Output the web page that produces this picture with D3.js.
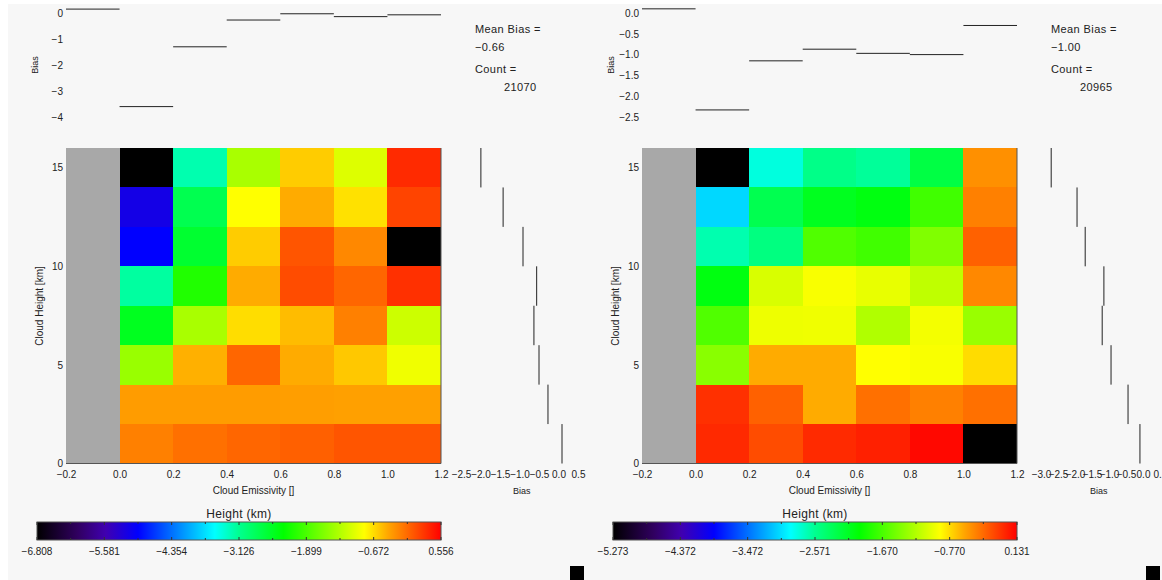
<!DOCTYPE html>
<html>
<head>
<meta charset="utf-8">
<script src="https://cdn.jsdelivr.net/npm/d3@7/dist/d3.min.js"></script>
<style>
html, body { margin: 0; padding: 0; background: #ffffff; }
svg { display: block; }
text { font-family: "Liberation Sans", sans-serif; fill: #222; }
</style>
</head>
<body>
<script>
// cell colours come from these values, columns are emissivity bins, rows go top (14-16 km) to bottom
var emissivity_bins = [0.0, 0.2, 0.4, 0.6, 0.8, 1.0];
var height_bins = [14, 12, 10, 8, 6, 4, 2, 0];
var emissivity_ticks = [-0.2, 0.0, 0.2, 0.4, 0.6, 0.8, 1.0, 1.2];
var height_ticks = [0, 5, 10, 15];

var left_cells = [
  [null, -3.251, -1.337, -0.593, -1.042, 0.313],
  [-5.15, -2.765, -0.843, -0.431, -0.696, 0.159],
  [-4.967, -2.588, -0.593, 0.063, -0.232, null],
  [-3.19, -2.132, -0.431, 0.114, -0.033, 0.276],
  [-2.49, -1.337, -0.674, -0.512, -0.188, -1.138],
  [-1.432, -0.453, -0.033, -0.431, -0.571, -0.93],
  [-0.35, -0.35, -0.35, -0.36, -0.37, -0.37],
  [-0.188, -0.092, -0.033, -0.003, 0.063, 0.063]
];
var right_cells = [
  [null, -2.798, -2.539, -2.598, -2.258, -0.48],
  [-3.052, -2.306, -2.106, -2.041, -1.706, -0.415],
  [-2.663, -2.506, -1.636, -1.706, -1.436, -0.28],
  [-2.041, -1.063, -0.923, -0.993, -1.166, -0.447],
  [-1.636, -0.966, -0.961, -1.231, -0.944, -1.328],
  [-1.398, -0.593, -0.593, -0.896, -0.923, -0.771],
  [-0.074, -0.28, -0.593, -0.345, -0.415, -0.345],
  [-0.042, -0.193, -0.047, -0.004, 0.099, null]
];
var left_bias_top = [0.15, -3.6, -1.3, -0.27, -0.03, -0.14, -0.07];
var right_bias_top = [0.1, -2.33, -1.15, -0.87, -0.97, -1.0, -0.3];
var left_bias_side = [-1.99, -1.42, -0.91, -0.56, -0.63, -0.5, -0.27, 0.09];
var right_bias_side = [-2.7, -1.94, -1.7, -1.15, -1.2, -0.94, -0.44, -0.09];
var left_top_ticks = [0, -1, -2, -3, -4];
var right_top_ticks = [0, -0.5, -1, -1.5, -2, -2.5];
var left_side_ticks = [-2.5, -2, -1.5, -1, -0.5, 0, 0.5];
var right_side_ticks = [-3, -2.5, -2, -1.5, -1, -0.5, 0, 0.5];
var left_bar_labels = ["-6.808", "-5.581", "-4.354", "-3.126", "-1.899", "-0.672", "0.556"];
var right_bar_labels = ["-5.273", "-4.372", "-3.472", "-2.571", "-1.670", "-0.770", "0.131"];

var color_stops = [[0, "#000000"], [0.1, "#30005f"], [0.17, "#4000b0"], [0.25, "#0000ff"], [0.44, "#00ffff"], [0.5, "#00ff90"],
                   [0.61, "#00ff00"], [0.81, "#ffff00"], [0.87, "#ffa500"], [1, "#ff0000"]];
var rainbow = d3.scaleLinear().domain(color_stops.map(function(d) { return d[0]; }))
  .range(color_stops.map(function(d) { return d[1]; })).clamp(true);

var svg = d3.select("body").append("svg").attr("width", 1162).attr("height", 580);
svg.append("rect").attr("x", 8).attr("y", 4).attr("width", 1154).attr("height", 576).attr("fill", "#f7f7f7");

function fmt(d) { return String(d).replace("-", "\u2212"); }
function fmt1(d) { return d3.format(".1f")(d).replace("-", "\u2212"); }

function DrawPanel(o) {
  var g = svg.append("g");
  var x = d3.scaleLinear().domain([-0.2, 1.2]).range([o.x0, o.x0 + 375]);
  var y = d3.scaleLinear().domain([0, 16]).range([463.5, 148]);
  var frac = d3.scaleLinear().domain([o.min, o.max]);

  g.append("rect").attr("x", x(-0.2)).attr("y", y(16)).attr("width", x(0) - x(-0.2) + 1).attr("height", y(0) - y(16))
    .attr("shape-rendering", "crispEdges").attr("fill", "#a8a8a8");
  o.cells.forEach(function(row, r) {
    row.forEach(function(v, c) {
      g.append("rect")
        .attr("x", x(emissivity_bins[c])).attr("y", y(height_bins[r] + 2))
        .attr("width", x(0.2) - x(0)).attr("height", y(0) - y(2))
        .attr("shape-rendering", "crispEdges")
        .attr("fill", v === null ? "#000000" : rainbow(frac(v)));
    });
  });
  g.append("line").attr("x1", x(-0.2)).attr("x2", x(1.2)).attr("y1", y(0)).attr("y2", y(0)).attr("stroke", "#555");
  g.append("line").attr("x1", x(1.2)).attr("x2", x(1.2)).attr("y1", y(0)).attr("y2", y(16)).attr("stroke", "#555");

  var xaxis = g.append("g").attr("transform", "translate(0," + y(0) + ")")
    .call(d3.axisBottom(x).tickValues(emissivity_ticks).tickSize(0).tickPadding(7).tickFormat(fmt1));
  var yaxis = g.append("g").attr("transform", "translate(" + x(-0.2) + ",0)")
    .call(d3.axisLeft(y).tickValues(height_ticks).tickSize(0).tickPadding(3).tickFormat(fmt));
  xaxis.select(".domain").remove();
  yaxis.select(".domain").remove();
  g.selectAll(".tick text").style("font-size", "10px").style("font-family", '"Liberation Sans", sans-serif').attr("fill", "#222");

  g.append("text").attr("x", x(0.5)).attr("y", 494).attr("text-anchor", "middle").style("font-size", "10px").text("Cloud Emissivity []");
  g.append("text").attr("transform", "translate(" + (o.x0 - 23) + ",306) rotate(-90)").attr("text-anchor", "middle").style("font-size", "10px").text("Cloud Height [km]");

  // bias by emissivity, above the map
  var top = d3.scaleLinear().domain([0, -1]).range([13, 13 + o.top_per_unit]);
  var topaxis = g.append("g").attr("transform", "translate(" + x(-0.2) + ",0)")
    .call(d3.axisLeft(top).tickValues(o.top_ticks).tickSize(0).tickPadding(3).tickFormat(o.top_fmt));
  topaxis.select(".domain").remove();
  topaxis.selectAll("text").style("font-size", "10px").attr("fill", "#222");
  g.append("text").attr("transform", "translate(" + (o.x0 - 28) + ",65) rotate(-90)").attr("text-anchor", "middle").style("font-size", "9px").text("Bias");
  o.bias_top.forEach(function(v, i) {
    g.append("line")
      .attr("x1", x(-0.2 + 0.2 * i)).attr("x2", x(0.2 * i))
      .attr("y1", top(v)).attr("y2", top(v))
      .attr("stroke", "#222").attr("stroke-width", 1);
  });

  // bias by height, right of the map
  var side = d3.scaleLinear().domain([0, 1]).range([o.side_zero, o.side_zero + o.side_per_unit]);
  var sideaxis = g.append("g").attr("transform", "translate(0," + y(0) + ")")
    .call(d3.axisBottom(side).tickValues(o.side_ticks).tickSize(0).tickPadding(7).tickFormat(fmt1));
  sideaxis.select(".domain").remove();
  sideaxis.selectAll("text").style("font-size", "10px").attr("fill", "#222");
  g.append("text").attr("x", o.side_zero + o.side_per_unit * o.side_label).attr("y", 494).attr("text-anchor", "middle").style("font-size", "9px").text("Bias");
  o.bias_side.forEach(function(v, i) {
    g.append("line")
      .attr("x1", side(v)).attr("x2", side(v))
      .attr("y1", y(height_bins[i])).attr("y2", y(height_bins[i] + 2))
      .attr("stroke", "#222").attr("stroke-width", 1);
  });

  // summary text
  var tx = o.x0 + 409;
  g.append("text").attr("x", tx).attr("y", 33).style("font-size", "11px").style("letter-spacing", "0.4px").text("Mean Bias =");
  g.append("text").attr("x", tx).attr("y", 51).style("font-size", "11px").style("letter-spacing", "0.4px").text(o.mean);
  g.append("text").attr("x", tx).attr("y", 73).style("font-size", "11px").style("letter-spacing", "0.4px").text("Count =");
  g.append("text").attr("x", tx + 29).attr("y", 91).style("font-size", "11px").style("letter-spacing", "0.4px").text(o.count);

  // colour bar
  var bx = d3.scaleLinear().domain([0, 1]).range([o.x0 - 29, o.x0 + 375]);
  var defs_id = "bar" + o.x0;
  var grad = svg.append("defs").append("linearGradient").attr("id", defs_id);
  color_stops.forEach(function(s) {
    grad.append("stop").attr("offset", s[0]).attr("stop-color", s[1]);
  });
  g.append("rect").attr("x", bx(0)).attr("y", 522).attr("width", bx(1) - bx(0)).attr("height", 18)
    .attr("fill", "url(#" + defs_id + ")").attr("stroke", "#555").attr("stroke-width", 1);
  d3.range(0, 13).forEach(function(i) {
    var len = i % 2 ? 2 : 3;
    g.append("line").attr("x1", bx(i / 12)).attr("x2", bx(i / 12)).attr("y1", 522).attr("y2", 522 + len).attr("stroke", "#333");
    g.append("line").attr("x1", bx(i / 12)).attr("x2", bx(i / 12)).attr("y1", 540).attr("y2", 540 - len).attr("stroke", "#333");
  });
  o.bar_labels.forEach(function(s, i) {
    g.append("text").attr("x", bx(i / 6)).attr("y", 555).attr("text-anchor", "middle").style("font-size", "10px").text(s.replace("-", "\u2212"));
  });
  g.append("text").attr("x", bx(0.5)).attr("y", 518).attr("text-anchor", "middle").style("font-size", "12px").style("letter-spacing", "0.3px").text("Height (km)");

  g.append("rect").attr("x", o.x0 + 504).attr("y", 566).attr("width", 14).attr("height", 14).attr("fill", "#000");
}

DrawPanel({
  x0: 66, cells: left_cells, min: -6.808, max: 0.556,
  bias_top: left_bias_top, top_ticks: left_top_ticks, top_per_unit: 26, top_fmt: fmt,
  bias_side: left_bias_side, side_ticks: left_side_ticks, side_zero: 558.5, side_per_unit: 39, side_label: -0.94,
  mean: "\u22120.66", count: "21070", bar_labels: left_bar_labels
});
DrawPanel({
  x0: 642, cells: right_cells, min: -5.273, max: 0.131,
  bias_top: right_bias_top, top_ticks: right_top_ticks, top_per_unit: 41.6, top_fmt: fmt1,
  bias_side: right_bias_side, side_ticks: right_side_ticks, side_zero: 1143, side_per_unit: 34, side_label: -1.3,
  mean: "\u22121.00", count: "20965", bar_labels: right_bar_labels
});
</script>
</body>
</html>
